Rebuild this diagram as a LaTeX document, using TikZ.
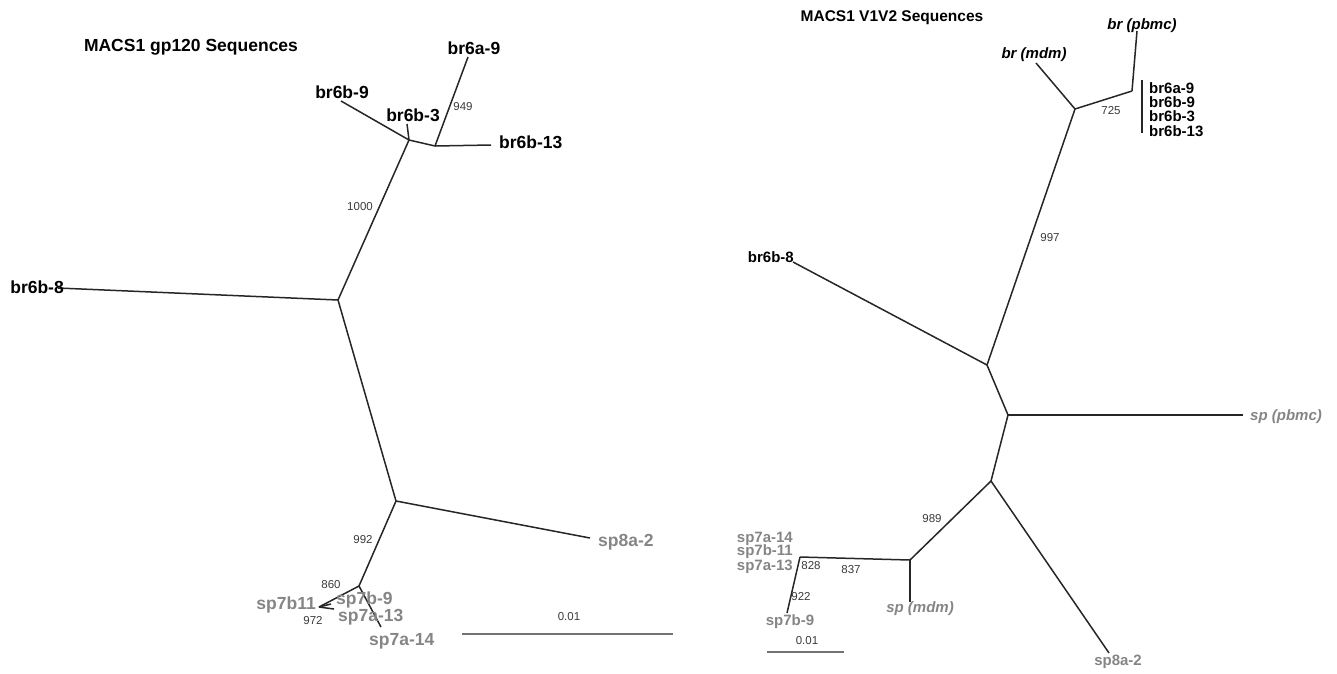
\documentclass[tikz,border=0pt]{standalone}
\usepackage{fontspec}
\setmainfont{Liberation Sans}
\usetikzlibrary{positioning}
\definecolor{spgrey}{HTML}{858585}
\definecolor{numgrey}{HTML}{3A3A3A}

\begin{document}
\begin{tikzpicture}[
  x=1pt, y=-1pt,
  edge/.style={line width=1.5pt, draw=black!85},
  bar/.style={line width=2.2pt, draw=black!55},
  leafL/.style={inner sep=0pt, font=\fontsize{17.5}{19}\selectfont\bfseries},
  leafR/.style={inner sep=0pt, font=\fontsize{15}{16}\selectfont\bfseries},
  spL/.style={leafL, text=spgrey},
  spR/.style={leafR, text=spgrey},
  pool/.style={leafR, font=\fontsize{15}{16}\selectfont\bfseries\itshape},
  boot/.style={inner sep=0pt, text=numgrey, font=\fontsize{11.5}{12}\selectfont},
  title/.style={inner sep=0pt, font=\fontsize{17.5}{19}\selectfont\bfseries}
]
\useasboundingbox (0,0) rectangle (1337,673);

% gp120 tree
\coordinate (lC) at (338,300);
\coordinate (lB) at (409,140);
\coordinate (lA) at (435,146);
\coordinate (lD) at (396,501);
\coordinate (lE) at (359,586);
\coordinate (lF) at (319,607);
\coordinate (l6a9) at (468,57);
\coordinate (l6b13) at (491,145);
\coordinate (l6b3) at (407,124);
\coordinate (l6b9) at (341,101);
\coordinate (l6b8) at (58,288);
\coordinate (l8a2) at (590,538);
\coordinate (l7a14) at (381,627);
\coordinate (l7b9) at (331,604);
\coordinate (l7a13) at (334,609);
\coordinate (lbar1) at (462,634);
\coordinate (lbar2) at (673,634);

\draw[edge] (lC) -- (lB);
\draw[edge] (lB) -- (lA);
\draw[edge] (lA) -- (l6a9);
\draw[edge] (lA) -- (l6b13);
\draw[edge] (lB) -- (l6b3);
\draw[edge] (lB) -- (l6b9);
\draw[edge] (lC) -- (l6b8);
\draw[edge] (lC) -- (lD);
\draw[edge] (lD) -- (l8a2);
\draw[edge] (lD) -- (lE);
\draw[edge] (lE) -- (lF);
\draw[edge] (lE) -- (l7a14);
\draw[edge] (lF) -- (l7b9);
\draw[edge] (lF) -- (l7a13);
\draw[bar] (lbar1) -- (lbar2);

\node[title] (ltitle) at (191,47) {MACS1 gp120 Sequences};
\node[leafL] (n6a9) at (474,48) {br6a-9};
\node[leafL, anchor=west] (n6b13) at (499,142) {br6b-13};
\node[leafL] (n6b3) at (413,115) {br6b-3};
\node[leafL] (n6b9) at (342,92) {br6b-9};
\node[leafL, anchor=east] (n6b8) at (64,287) {br6b-8};
\node[spL, anchor=west] (n8a2) at (598,542) {sp8a-2};
\node[spL, anchor=east] (n7b11) at (316,605) {sp7b11};
\node[spL, anchor=west] (n7b9) at (336,600) {sp7b-9};
\node[spL, anchor=west] (n7a13) at (338,617) {sp7a-13};
\node[spL, anchor=west] (n7a14) at (369,641) {sp7a-14};
\node[boot] (b949) at (463,107) {949};
\node[boot] (b1000) at (360,207) {1000};
\node[boot] (b992) at (363,540) {992};
\node[boot] (b860) at (331,585) {860};
\node[boot] (b972) at (313,621) {972};
\node[boot] (lscale) at (569,617) {0.01};

% V1V2 tree
\coordinate (rG) at (1132,91);
\coordinate (rH) at (1075,109);
\coordinate (rI) at (987,365);
\coordinate (rJ) at (1008,415);
\coordinate (rK) at (991,481);
\coordinate (rL) at (910,560);
\coordinate (rM) at (800,557);
\coordinate (rpbmc) at (1137,31);
\coordinate (rmdm) at (1036,63);
\coordinate (r6b8) at (793,262);
\coordinate (rsppb) at (1243,415);
\coordinate (r8a2) at (1109,653);
\coordinate (rspmd) at (910,602);
\coordinate (r7b9) at (787,613);
\coordinate (rgrp1) at (1142,80);
\coordinate (rgrp2) at (1142,133);
\coordinate (rbar1) at (767,652);
\coordinate (rbar2) at (844,652);

\draw[edge] (rH) -- (rG);
\draw[edge] (rG) -- (rpbmc);
\draw[edge] (rH) -- (rmdm);
\draw[edge] (rH) -- (rI);
\draw[edge] (rI) -- (r6b8);
\draw[edge] (rI) -- (rJ);
\draw[edge] (rJ) -- (rsppb);
\draw[edge] (rJ) -- (rK);
\draw[edge] (rK) -- (r8a2);
\draw[edge] (rK) -- (rL);
\draw[edge] (rL) -- (rspmd);
\draw[edge] (rL) -- (rM);
\draw[edge] (rM) -- (r7b9);
\draw[edge] (rgrp1) -- (rgrp2);
\draw[bar] (rbar1) -- (rbar2);

\node[title, font=\fontsize{15.5}{17}\selectfont\bfseries] (rtitle) at (892,18) {MACS1 V1V2 Sequences};
\node[pool] (mpbmc) at (1142,26) {br (pbmc)};
\node[pool] (mmdm) at (1034,55) {br (mdm)};
\node[leafR, anchor=west] (m6a9) at (1149,88) {br6a-9};
\node[leafR, anchor=west] (m6b9) at (1149,102) {br6b-9};
\node[leafR, anchor=west] (m6b3) at (1149,116) {br6b-3};
\node[leafR, anchor=west] (m6b13) at (1149,131) {br6b-13};
\node[leafR, anchor=east] (m6b8) at (794,257) {br6b-8};
\node[pool, text=spgrey, anchor=west] (msppb) at (1250,417) {sp (pbmc)};
\node[spR] (m8a2) at (1118,662) {sp8a-2};
\node[pool, text=spgrey] (mspmd) at (920,609) {sp (mdm)};
\node[spR, anchor=east] (m7a14) at (793,539) {sp7a-14};
\node[spR, anchor=east] (m7b11) at (793,552) {sp7b-11};
\node[spR, anchor=east] (m7a13) at (793,567) {sp7a-13};
\node[spR] (m7b9) at (790,622) {sp7b-9};
\node[boot] (b725) at (1111,111) {725};
\node[boot] (b997) at (1050,238) {997};
\node[boot] (b989) at (932,519) {989};
\node[boot] (b837) at (851,570) {837};
\node[boot] (b828) at (811,566) {828};
\node[boot] (b922) at (801,597) {922};
\node[boot] (rscale) at (807,641) {0.01};

\end{tikzpicture}
\end{document}
